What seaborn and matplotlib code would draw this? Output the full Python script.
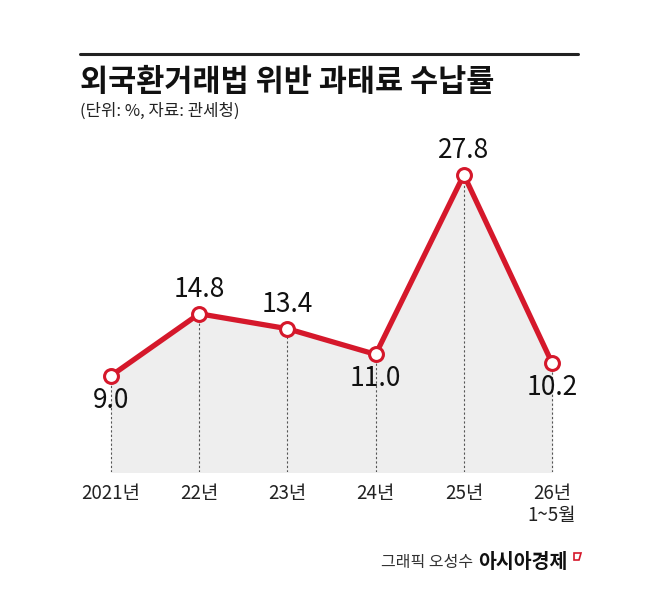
import matplotlib.pyplot as plt
import numpy as np
import pandas as pd
import seaborn as sns
from matplotlib.patches import Polygon

# 데이터
연도 = ["2021년", "22년", "23년", "24년", "25년", "26년\n1~5월"]
수납률 = [9.0, 14.8, 13.4, 11.0, 27.8, 10.2]
라벨위치 = ["below", "above", "above", "below", "above", "below"]

df = pd.DataFrame({"x": np.arange(len(연도)), "rate": 수납률})

sns.set_theme(style="white")
plt.rcParams["font.family"] = ["Noto Sans CJK KR", "DejaVu Sans"]

빨강 = "#d5182b"

fig = plt.figure(figsize=(6.58, 5.94), dpi=100)
ax = fig.add_axes([0.1017, 0.2054, 0.8043, 0.54])

ax.fill_between(df["x"], 0, df["rate"], color="#eeeeee", zorder=1)
ax.vlines(df["x"], 0, df["rate"], colors="#555555", linestyles=(0, (2, 2)),
          linewidth=0.8, zorder=2)
sns.lineplot(data=df, x="x", y="rate", ax=ax, color=빨강, linewidth=3.8,
             marker="o", markersize=10, markerfacecolor="white",
             markeredgecolor=빨강, markeredgewidth=2.2, zorder=3)

for x, v, pos in zip(df["x"], df["rate"], 라벨위치):
    dy = 8 if pos == "above" else -8
    va = "bottom" if pos == "above" else "top"
    ax.annotate(f"{v:.1f}", (x, v), xytext=(0, dy), textcoords="offset points",
                ha="center", va=va, fontsize=19, color="#111111", zorder=4)

ax.set_xlim(-0.5, 5.5)
ax.set_ylim(0, 30)
ax.set_xticks(df["x"])
ax.set_xticklabels(연도, fontsize=13.5, color="#222222", linespacing=1.05)
ax.tick_params(axis="x", length=0, pad=8)
ax.set_yticks([])
ax.set_xlabel("")
ax.set_ylabel("")
for s in ax.spines.values():
    s.set_visible(False)

# 제목 영역
fig.add_artist(plt.Line2D([80 / 658, 578 / 658], [1 - 54 / 594, 1 - 54 / 594],
                          color="#222222", linewidth=2.2))
fig.text(80 / 658, 1 - 82 / 594, "외국환거래법 위반 과태료 수납률", fontsize=22,
         fontweight="bold", color="#111111", va="center", ha="left")
fig.text(80 / 658, 1 - 111 / 594, "(단위: %, 자료: 관세청)", fontsize=12,
         color="#222222", va="center", ha="left")

# 하단 출처
fig.text(473 / 658, 1 - 563 / 594, "그래픽 오성수", fontsize=11.5, color="#333333",
         va="center", ha="right")
fig.text(478 / 658, 1 - 563 / 594, "아시아경제", fontsize=14, fontweight="bold",
         color="#111111", va="center", ha="left")
표시 = [(574, 553), (581, 553), (579, 560), (574, 560)]
fig.add_artist(Polygon([(px / 658, 1 - py / 594) for px, py in 표시], closed=True,
                       fill=False, edgecolor=빨강, linewidth=1.2,
                       transform=fig.transFigure))

fig.savefig("out.png", dpi=100, facecolor="white")
